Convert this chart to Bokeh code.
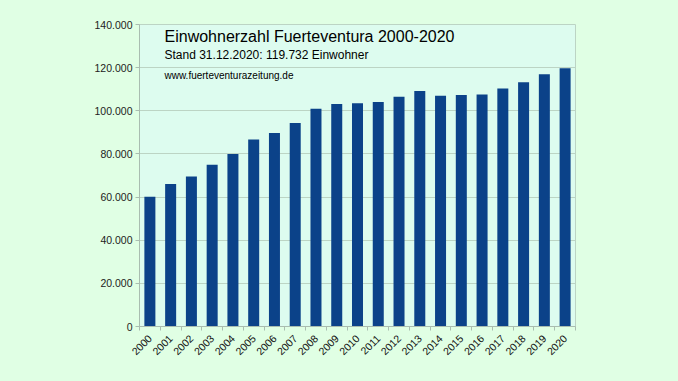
from bokeh.plotting import figure
from bokeh.models import Range1d, FixedTicker, ColumnDataSource, Label, GlobalInlineStyleSheet
from bokeh.embed import file_html
from bokeh.resources import INLINE
import math

years = [str(y) for y in range(2000, 2021)]
population = [60124, 66025, 69500, 74983, 79986, 86642, 89680, 94386, 100929,
              103167, 103492, 104072, 106456, 109174, 106930, 107367, 107521,
              110299, 113275, 116886, 119732]
y_ticks = [0, 20000, 40000, 60000, 80000, 100000, 120000, 140000]
y_tick_labels = ["0", "20.000", "40.000", "60.000", "80.000", "100.000", "120.000", "140.000"]
title_text = "Einwohnerzahl Fuerteventura 2000-2020"
subtitle_text = "Stand 31.12.2020: 119.732 Einwohner"
url_text = "www.fuerteventurazeitung.de"

OUTER_BG = "#e0ffe4"
PLOT_BG = "#ddfcef"
BAR = "#0b4289"
GRID = "#bcd4c4"
AXIS = "#a9bdb0"
FONT = "Liberation Sans"

xs = list(range(len(years)))
src = ColumnDataSource(dict(x=xs, top=population))

p = figure(width=662, height=365, output_backend="svg", toolbar_location=None,
           x_range=Range1d(-0.5, len(years) - 0.5), y_range=Range1d(0, 140000),
           min_border_left=139, min_border_right=87, min_border_top=24, min_border_bottom=39)
p.background_fill_color = PLOT_BG
p.border_fill_color = OUTER_BG
p.outline_line_color = GRID
p.stylesheets = [GlobalInlineStyleSheet(css=f"body {{ background-color: {OUTER_BG}; }}")]

p.vbar(x="x", top="top", width=0.53, bottom=0, source=src, fill_color=BAR, line_color=None)

# x axis
p.xaxis.ticker = FixedTicker(ticks=xs, minor_ticks=[i - 0.5 for i in range(len(years) + 1)])
p.xaxis.major_label_overrides = {i: y for i, y in enumerate(years)}
p.xaxis.major_label_orientation = math.pi / 4
p.xaxis.major_tick_line_color = None
p.xaxis.minor_tick_in = 0
p.xaxis.minor_tick_out = 4
p.xaxis.minor_tick_line_color = AXIS
p.xaxis.axis_line_color = AXIS
p.xaxis.major_label_text_font = FONT
p.xaxis.major_label_text_font_size = "10.5px"
p.xaxis.major_label_text_color = "#111111"
p.xaxis.major_label_standoff = 4
p.xgrid.grid_line_color = None

# y axis
p.yaxis.ticker = FixedTicker(ticks=y_ticks)
p.yaxis.major_label_overrides = {t: l for t, l in zip(y_ticks, y_tick_labels)}
p.yaxis.major_tick_in = 0
p.yaxis.major_tick_out = 4
p.yaxis.major_tick_line_color = AXIS
p.yaxis.minor_tick_line_color = None
p.yaxis.axis_line_color = AXIS
p.yaxis.major_label_text_font = FONT
p.yaxis.major_label_text_font_size = "10.5px"
p.yaxis.major_label_text_color = "#222222"
p.yaxis.major_label_standoff = 3
p.ygrid.grid_line_color = GRID
p.ygrid.grid_line_width = 1

p.add_layout(Label(x=25, y=290, x_units="screen", y_units="screen", text=title_text,
                   text_font=FONT, text_font_size="16px", text_color="#000000",
                   text_baseline="middle"))
p.add_layout(Label(x=25, y=272, x_units="screen", y_units="screen", text=subtitle_text,
                   text_font=FONT, text_font_size="12px", text_color="#000000",
                   text_baseline="middle"))
p.add_layout(Label(x=25, y=251, x_units="screen", y_units="screen", text=url_text,
                   text_font=FONT, text_font_size="10px", text_color="#000000",
                   text_baseline="middle"))

open("out.html", "w").write(file_html(p, INLINE))
